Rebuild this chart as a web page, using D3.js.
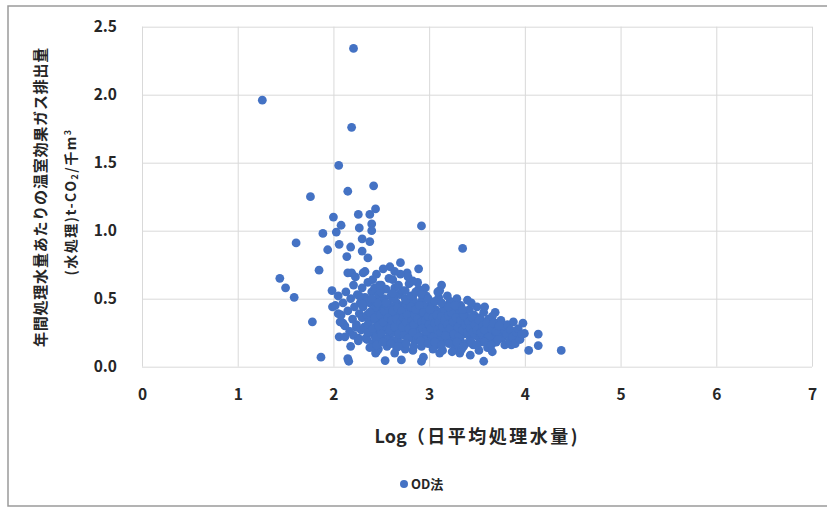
<!DOCTYPE html>
<html>
<head>
    <title></title>
    <script src='https://d3js.org/d3.v7.min.js'></script>
    <style>
      body {margin:0; background:#fff;}
      text {font-family:"Noto Sans CJK JP","Noto Sans",sans-serif;}
      .grid line {stroke:#d9d9d9;}
      .grid path {stroke:none;}
    </style>
</head>
<body onload='init()'>
<svg width=827 height=507>
</svg>
<script>
// x = Log(daily average flow), y = GHG emission per treated volume
var sparsePoints = [
 [2.21,2.34],[1.257,1.96],[2.19,1.76],[2.055,1.48],[2.42,1.33],[2.15,1.29],[1.76,1.25],[2.44,1.16],
 [2.0,1.10],[2.08,1.04],[2.03,0.99],[2.26,1.12],[2.27,1.02],[2.38,1.12],[2.40,1.05],[2.40,1.00],
 [1.89,0.98],[1.61,0.91],[1.94,0.86],[2.06,0.90],[2.18,0.88],[2.14,0.81],[2.30,0.94],[2.38,0.92],
 [2.30,0.85],[2.36,0.80],[1.85,0.71],[1.44,0.65],[1.50,0.58],[1.59,0.51],[1.985,0.56],[1.99,0.44],
 [1.78,0.33],[2.06,0.22],[1.87,0.07],[2.15,0.06],[2.16,0.04],[2.15,0.69],[2.19,0.69],[2.31,0.69],
 [2.10,0.32],[2.05,0.39],[2.24,0.29],[2.21,0.23],[2.35,0.20],[2.45,0.11],[2.26,0.21],[2.92,1.035],
 [3.35,0.87],[2.59,0.735],[2.70,0.765],[2.89,0.72],[2.77,0.69],[3.13,0.60],[3.11,0.56],[3.40,0.49],
 [3.69,0.40],[3.98,0.32],[3.995,0.245],[4.14,0.24],[4.14,0.155],[4.04,0.12],[4.38,0.12],[3.88,0.22],
 [3.86,0.16],[3.57,0.04],[2.92,0.04],[2.94,0.07],[2.54,0.045],[2.71,0.05],[2.64,0.10],[2.44,0.10],
 [3.11,0.10],[3.32,0.10],[3.43,0.085],[3.74,0.31],[3.81,0.28]
];
var densePoints = [
 [2.02,0.45],[2.05,0.52],[2.08,0.38],[2.10,0.47],[2.12,0.30],[2.13,0.55],[2.15,0.41],[2.17,0.26],
 [2.18,0.50],[2.20,0.35],[2.21,0.60],[2.22,0.44],[2.24,0.31],[2.25,0.53],[2.26,0.19],[2.27,0.39],
 [2.28,0.47],[2.29,0.27],[2.30,0.58],[2.30,0.36],[2.12,0.22],[2.18,0.15],[2.23,0.66],[2.07,0.33],
 [2.31,0.44],[2.32,0.29],[2.33,0.51],[2.34,0.21],[2.35,0.38],[2.36,0.62],[2.37,0.33],[2.38,0.47],
 [2.39,0.26],[2.40,0.55],[2.40,0.41],[2.41,0.17],[2.42,0.35],[2.43,0.49],[2.44,0.29],[2.45,0.68],
 [2.45,0.40],[2.46,0.23],[2.47,0.53],[2.48,0.36],[2.49,0.45],[2.50,0.31],[2.50,0.60],[2.51,0.19],
 [2.52,0.42],[2.53,0.50],[2.54,0.27],[2.55,0.37],[2.55,0.57],[2.56,0.33],[2.57,0.46],[2.58,0.22],
 [2.58,0.65],[2.59,0.40],[2.60,0.30],[2.60,0.52],[2.33,0.70],[2.38,0.14],[2.43,0.58],[2.47,0.13],
 [2.52,0.72],[2.56,0.15],[2.35,0.48],[2.42,0.24],[2.48,0.28],[2.53,0.34],[2.57,0.28],[2.44,0.44],
 [2.51,0.48],[2.39,0.37],[2.46,0.33],[2.54,0.43],[2.59,0.35],[2.36,0.25],[2.49,0.55],[2.41,0.64],
 [2.61,0.44],[2.62,0.25],[2.63,0.36],[2.64,0.58],[2.65,0.31],[2.66,0.47],[2.67,0.20],[2.68,0.40],
 [2.69,0.53],[2.70,0.28],[2.70,0.68],[2.71,0.35],[2.72,0.45],[2.73,0.17],[2.74,0.38],[2.75,0.50],
 [2.76,0.26],[2.77,0.42],[2.78,0.33],[2.79,0.61],[2.80,0.23],[2.80,0.46],[2.81,0.37],[2.82,0.29],
 [2.83,0.52],[2.84,0.40],[2.85,0.19],[2.86,0.34],[2.87,0.44],[2.88,0.27],[2.89,0.57],[2.90,0.38],
 [2.91,0.31],[2.92,0.48],[2.93,0.22],[2.94,0.36],[2.95,0.42],[2.96,0.28],[2.97,0.52],[2.98,0.33],
 [2.99,0.24],[3.00,0.45],[2.62,0.64],[2.66,0.14],[2.72,0.56],[2.75,0.13],[2.78,0.66],[2.83,0.12],
 [2.88,0.62],[2.92,0.15],[2.96,0.58],[2.65,0.39],[2.68,0.30],[2.73,0.43],[2.77,0.31],[2.82,0.41],
 [2.86,0.25],[2.90,0.30],[2.94,0.45],[2.98,0.40],[2.63,0.50],[2.71,0.24],[2.79,0.36],[2.84,0.48],
 [2.91,0.39],[2.97,0.35],[2.69,0.37],[2.76,0.49],[2.87,0.32],[2.95,0.20],
 [3.01,0.30],[3.02,0.38],[3.03,0.21],[3.04,0.47],[3.05,0.34],[3.06,0.27],[3.07,0.42],[3.08,0.16],
 [3.09,0.36],[3.10,0.51],[3.11,0.29],[3.12,0.40],[3.13,0.23],[3.14,0.33],[3.15,0.45],[3.16,0.19],
 [3.17,0.37],[3.18,0.28],[3.19,0.43],[3.20,0.31],[3.21,0.25],[3.22,0.48],[3.23,0.35],[3.24,0.21],
 [3.25,0.39],[3.26,0.30],[3.27,0.14],[3.28,0.42],[3.29,0.26],[3.30,0.34],[3.31,0.38],[3.32,0.20],
 [3.33,0.45],[3.34,0.29],[3.35,0.33],[3.36,0.24],[3.37,0.40],[3.38,0.17],[3.39,0.31],[3.40,0.36],
 [3.04,0.13],[3.09,0.55],[3.14,0.12],[3.19,0.52],[3.24,0.11],[3.29,0.50],[3.34,0.13],[3.03,0.33],
 [3.07,0.25],[3.12,0.31],[3.16,0.41],[3.21,0.34],[3.26,0.37],[3.31,0.27],[3.36,0.32],[3.05,0.41],
 [3.11,0.20],[3.18,0.35],[3.23,0.27],[3.28,0.31],[3.33,0.23],[3.38,0.28],[3.02,0.24],[3.15,0.27],
 [3.27,0.22],
 [3.41,0.27],[3.42,0.42],[3.43,0.21],[3.44,0.34],[3.45,0.30],[3.46,0.16],[3.47,0.38],[3.48,0.25],
 [3.49,0.32],[3.50,0.44],[3.51,0.22],[3.52,0.29],[3.53,0.36],[3.54,0.18],[3.55,0.31],[3.56,0.26],
 [3.57,0.40],[3.58,0.23],[3.59,0.33],[3.60,0.28],[3.61,0.14],[3.62,0.35],[3.63,0.24],[3.64,0.30],
 [3.65,0.20],[3.66,0.37],[3.67,0.27],[3.68,0.22],[3.69,0.32],[3.70,0.18],[3.72,0.29],[3.73,0.25],
 [3.75,0.34],[3.76,0.21],[3.78,0.27],[3.79,0.16],[3.44,0.47],[3.52,0.12],[3.58,0.44],[3.66,0.11],
 [3.47,0.28],[3.55,0.24],[3.63,0.34],[3.71,0.24],[3.50,0.35],[3.60,0.20],[3.68,0.29],[3.45,0.23],
 [3.53,0.28],[3.62,0.27],
 [3.81,0.24],[3.82,0.31],[3.84,0.19],[3.85,0.27],[3.87,0.22],[3.88,0.33],[3.90,0.17],[3.91,0.25],
 [3.93,0.28],[3.95,0.20],[3.97,0.24]
];
// core of the cloud, where the dots overlap into a solid mass
var corePoints = [
 [2.36,0.31],[2.38,0.40],[2.41,0.28],[2.43,0.36],[2.44,0.21],[2.46,0.47],[2.47,0.30],[2.49,0.38],
 [2.50,0.24],[2.52,0.33],[2.53,0.41],[2.55,0.20],[2.56,0.45],[2.57,0.36],[2.59,0.27],[2.61,0.34],
 [2.62,0.41],[2.63,0.19],[2.64,0.29],[2.66,0.35],[2.67,0.43],[2.68,0.24],[2.70,0.32],[2.71,0.41],
 [2.72,0.29],[2.73,0.36],[2.74,0.23],[2.76,0.33],[2.77,0.38],[2.78,0.21],[2.79,0.28],[2.81,0.44],
 [2.82,0.34],[2.83,0.25],[2.84,0.31],[2.85,0.38],[2.86,0.42],[2.88,0.35],[2.89,0.22],[2.90,0.45],
 [2.92,0.33],[2.93,0.28],[2.94,0.40],[2.96,0.34],[2.97,0.26],[2.99,0.37],[3.00,0.31],[3.01,0.42],
 [3.02,0.28],[3.04,0.36],[3.05,0.22],[3.06,0.32],[3.08,0.38],[3.09,0.27],[3.10,0.33],[3.12,0.25],
 [3.13,0.37],[3.14,0.29],[3.16,0.34],[3.17,0.23],[3.19,0.31],[3.20,0.38],[3.22,0.28],[3.23,0.40],
 [3.25,0.33],[3.26,0.24],[3.28,0.36],[3.30,0.29],[3.31,0.22],[3.33,0.34],[3.35,0.27],[3.36,0.38],
 [3.38,0.31],[3.40,0.25],[3.41,0.33],[3.43,0.28],[3.45,0.36],[3.46,0.25],[3.48,0.31],[3.50,0.27],
 [3.52,0.34],[3.54,0.25],[3.56,0.30],[3.58,0.27],[3.60,0.32],[3.62,0.22],[3.65,0.28],[3.67,0.32],
 [3.70,0.26],[3.73,0.30],[2.40,0.50],[2.48,0.60],[2.55,0.47],[2.62,0.54],[2.68,0.60],[2.75,0.56],
 [2.81,0.52],[2.86,0.55],[2.92,0.53],[2.99,0.50],[3.06,0.48],[3.13,0.47],[3.20,0.44],[3.27,0.45],
 [3.35,0.42],[2.45,0.16],[2.52,0.18],[2.60,0.17],[2.68,0.15],[2.76,0.17],[2.84,0.15],[2.91,0.19],
 [2.99,0.17],[3.06,0.18],[3.13,0.16],[3.21,0.17],[3.29,0.18],[3.36,0.15],[3.44,0.18],[3.50,0.16],
 [3.58,0.18],[3.65,0.16],[3.72,0.20],[2.64,0.70],[2.83,0.63],[2.30,0.46],[2.27,0.52]
];
var xTicks = [0,1,2,3,4,5,6,7];
var yTicks = [0,0.5,1.0,1.5,2.0,2.5];
var seriesName = "OD法";

function init() {
var svg = d3.select("svg");
var left = 142, right = 812, top = 26.7, bottom = 366.7;
var x = d3.scaleLinear().domain([0,7]).range([left,right]);
var y = d3.scaleLinear().domain([0,2.5]).range([bottom,top]);

// outer frame (left, top, bottom)
svg.append("path")
  .attr("d","M827,6 L8,6 L8,506 L827,506")
  .attr("fill","none").attr("stroke","#9a9a9a").attr("stroke-width",1.5);

// grid
svg.append("g").attr("class","grid")
  .attr("transform","translate(0,"+bottom+")")
  .call(d3.axisBottom(x).tickValues(xTicks).tickSize(-(bottom-top)).tickFormat(""));
svg.append("g").attr("class","grid")
  .attr("transform","translate("+left+",0)")
  .call(d3.axisLeft(y).tickValues(yTicks).tickSize(-(right-left)).tickFormat(""));

// tick labels
var yAxis = svg.append("g")
  .attr("transform","translate("+left+",0)")
  .call(d3.axisLeft(y).tickValues(yTicks).tickSize(0).tickPadding(25).tickFormat(d3.format(".1f")));
var xAxis = svg.append("g")
  .attr("transform","translate(0,"+bottom+")")
  .call(d3.axisBottom(x).tickValues(xTicks).tickSize(0).tickPadding(22).tickFormat(d3.format("d")));
[yAxis,xAxis].forEach(function(a) {
  a.select(".domain").remove();
  a.selectAll("text").attr("font-family","'Noto Sans','Noto Sans CJK JP',sans-serif")
   .attr("font-size","15.5px").attr("font-weight","bold").attr("fill","#262626");
});

// points
svg.append("g")
  .selectAll("circle")
  .data(sparsePoints.concat(densePoints, corePoints))
  .enter().append("circle")
  .attr("cx", function(d) { return x(d[0]); })
  .attr("cy", function(d) { return y(d[1]); })
  .attr("r", 4.4)
  .attr("fill", "#4472c4");

// x axis title
var t1 = svg.append("text")
  .attr("x",476).attr("y",443)
  .style("text-anchor","middle")
  .attr("font-size","18px").attr("font-weight","bold").attr("fill","#262626");
t1.append("tspan").text("Log");
t1.append("tspan").style("letter-spacing","2.5px").text("（日平均処理水量");
t1.append("tspan").text(")");

// y axis title, two lines
svg.append("text")
  .attr("transform","translate(46,197) rotate(-90)")
  .style("text-anchor","middle")
  .style("letter-spacing","0.8px")
  .attr("font-size","15px").attr("font-weight","bold").attr("fill","#262626")
  .text("年間処理水量あたりの温室効果ガス排出量");
var t2 = svg.append("text")
  .attr("transform","translate(76,202) rotate(-90)")
  .style("text-anchor","middle")
  .style("letter-spacing","1.5px")
  .attr("font-size","14px").attr("font-weight","bold").attr("fill","#262626");
t2.append("tspan").text("(水処理)t-CO");
t2.append("tspan").attr("font-size","9px").attr("dy","2").text("2");
t2.append("tspan").attr("dy","-2").text("/千m");
t2.append("tspan").attr("font-size","9px").attr("dy","-5").text("3");

// legend
svg.append("circle").attr("cx",404).attr("cy",484).attr("r",4).attr("fill","#4472c4");
svg.append("text").attr("x",411).attr("y",489)
  .attr("font-size","13px").attr("font-weight","bold").attr("fill","#262626")
  .text(seriesName);
}
</script>
</body>
</html>
